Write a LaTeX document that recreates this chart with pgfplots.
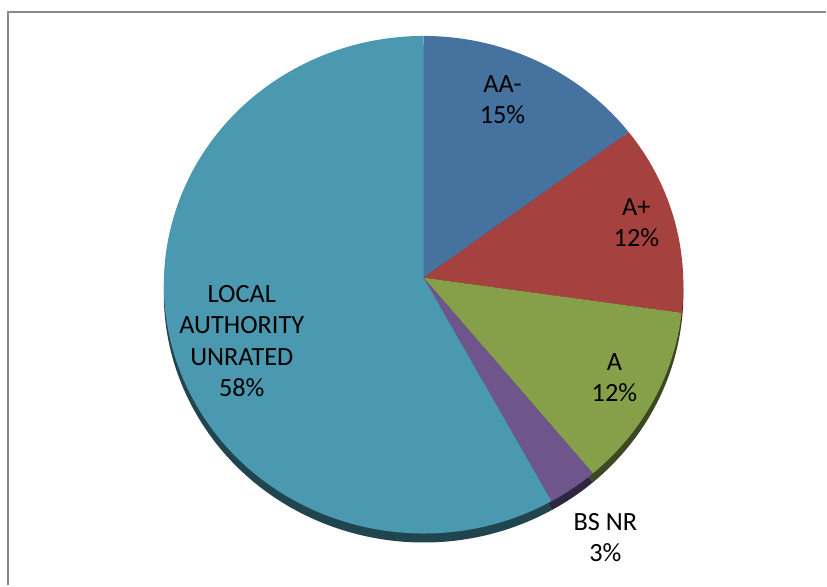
\documentclass[border=0pt]{standalone}
\usepackage{pgfplots}
\usepackage{pgfplotstable}
\pgfplotsset{compat=1.18}
\usepackage{fontspec}
\setmainfont{Carlito}
\definecolor{pie0}{HTML}{46729F}
\definecolor{pie1}{HTML}{A5423F}
\definecolor{pie2}{HTML}{86A04A}
\definecolor{pie3}{HTML}{6E558C}
\definecolor{pie4}{HTML}{4A99B0}
\definecolor{framegray}{HTML}{8A8A8A}
\pgfplotstableread{
label value
AA- 14.5
A+ 12.3
A 11.9
BSNR 3.1
LAU 58.2
}\pietable
\begin{document}
\begin{tikzpicture}
\begin{axis}[
  x=1pt, y=1pt,
  xmin=0, xmax=827, ymin=0, ymax=586,
  enlargelimits=false,
  hide axis,
  clip=false,
]
\addplot[draw=none, forget plot] coordinates {(0,0) (827,586)};
\pgfplotsextra{
  % shadow (3D rim)
  \xdef\startang{90}%
  \pgfplotstableforeachcolumnelement{value}\of\pietable\as\val{%
    \pgfmathsetmacro\endang{\startang-3.6*\val}%
    \fill[pie\pgfplotstablerow!45!black]
      (axis cs:424,299) -- (axis cs:{424+260*cos(\startang)},{292+249*sin(\startang)})
      arc[start angle=\startang, end angle=\endang, x radius=260pt, y radius=249pt] -- cycle;
    \xdef\startang{\endang}%
  }%
  % faces
  \xdef\startang{90}%
  \pgfplotstableforeachcolumnelement{value}\of\pietable\as\val{%
    \pgfmathsetmacro\endang{\startang-3.6*\val}%
    \fill[pie\pgfplotstablerow]
      (axis cs:424,308) -- (axis cs:{424+260*cos(\startang)},{301+249*sin(\startang)})
      arc[start angle=\startang, end angle=\endang, x radius=260pt, y radius=249pt] -- cycle;
    \xdef\startang{\endang}%
  }%
  % frame
  \draw[framegray, line width=1.6pt] (axis cs:8,0) -- (axis cs:8,574) -- (axis cs:827,574);
}
\begin{scope}[every node/.style={align=center, font=\fontsize{26.3}{31.5}\selectfont, text=black}]
\node at (axis cs:503,486) {AA-\\15\%};
\node at (axis cs:637,363) {A+\\12\%};
\node at (axis cs:615,208) {A\\12\%};
\node at (axis cs:606,48) {BS NR\\3\%};
\node at (axis cs:242,244.5) {LOCAL\\AUTHORITY\\UNRATED\\58\%};
\end{scope}
\end{axis}
\end{tikzpicture}
\end{document}
